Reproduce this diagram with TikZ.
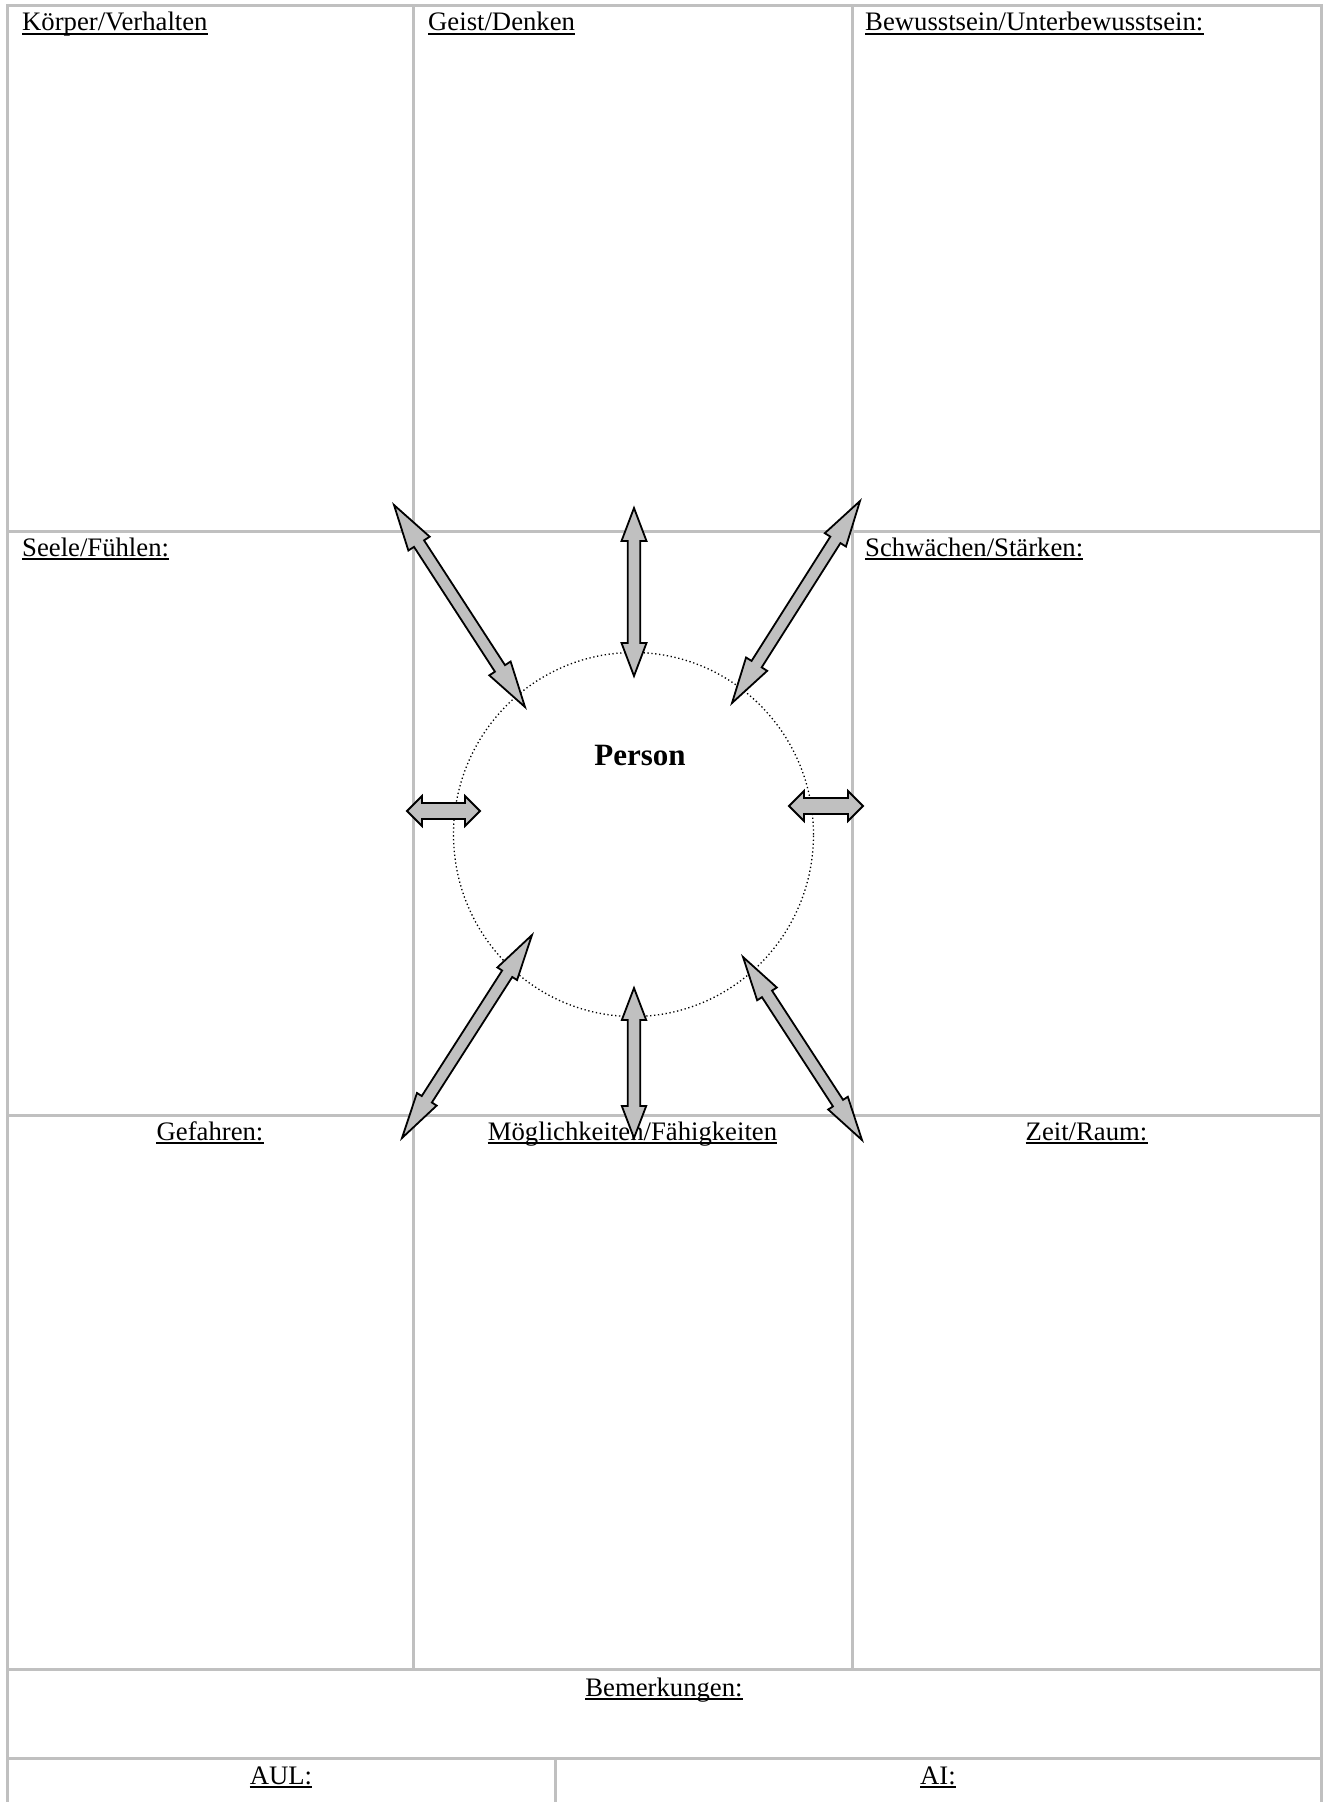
\documentclass[tikz,border=0pt]{standalone}
\usepackage{fontspec}
\setmainfont{Liberation Serif}
\usetikzlibrary{calc,shapes.geometric}
\definecolor{gridgray}{HTML}{C0C0C0}
\definecolor{arrowgray}{HTML}{C0C0C0}
\tikzset{
  tableline/.style={draw=gridgray, line width=3pt},
  lbl/.style={inner sep=0pt, font=\fontsize{26.7}{32}\selectfont},
  uline/.style={draw=black, line width=2pt},
  arrowshape/.style={draw=black, fill=arrowgray, line width=1.8pt, line join=miter},
  circ/.style={ellipse, draw=black, line width=1.3pt, dash pattern=on 1.3pt off 2.6pt, inner sep=0pt, minimum width=360pt, minimum height=364pt}
}
% underlined label: name, position, anchor, text
\newcommand\ulabel[4]{%
  \node[lbl, anchor=#3] (#1) at #2 {#4};
  \draw[uline] ([yshift=-2.8pt]#1.base west) -- ([yshift=-2.8pt]#1.base east);}
% double block arrow: name, tip A, tip B, shaft half width, head half width, head length
\newcommand\dblarr[6]{%
  \coordinate (#1a) at #2; \coordinate (#1b) at #3;
  \coordinate (#1c) at ($(#1a)!#6!(#1b)$);
  \coordinate (#1d) at ($(#1b)!#6!(#1a)$);
  \draw[arrowshape] (#1a) -- ($(#1c)!#5!90:(#1b)$) -- ($(#1c)!#4!90:(#1b)$)
    -- ($(#1d)!#4!-90:(#1a)$) -- ($(#1d)!#5!-90:(#1a)$) -- (#1b)
    -- ($(#1d)!#5!90:(#1a)$) -- ($(#1d)!#4!90:(#1a)$)
    -- ($(#1c)!#4!-90:(#1b)$) -- ($(#1c)!#5!-90:(#1b)$) -- cycle;}
\begin{document}
\begin{tikzpicture}[x=1pt, y=-1pt]
\useasboundingbox (0,0) rectangle (1323,1802);
\fill[white] (0,0) rectangle (1323,1802);
% table
\draw[tableline] (7,1802) -- (7,5) -- (1321,5) -- (1321,1802);
\draw[tableline] (413.5,5) -- (413.5,1669);
\draw[tableline] (852,5) -- (852,1669);
\draw[tableline] (7,531) -- (1321,531);
\draw[tableline] (7,1115) -- (1321,1115);
\draw[tableline] (7,1669) -- (1321,1669);
\draw[tableline] (7,1758) -- (1321,1758);
\draw[tableline] (555,1758) -- (555,1802);
% labels
\ulabel{t1}{(22,30.7)}{base west}{Körper/Verhalten}
\ulabel{t2}{(428,30.7)}{base west}{Geist/Denken}
\ulabel{t3}{(865,30.7)}{base west}{Bewusstsein/Unterbewusstsein:}
\ulabel{t4}{(22,556.3)}{base west}{Seele/Fühlen:}
\ulabel{t6}{(865,556.3)}{base west}{Schwächen/Stärken:}
\ulabel{t7}{(210,1140.5)}{base}{Gefahren:}
\ulabel{t8}{(632.5,1140.5)}{base}{Möglichkeiten/Fähigkeiten}
\ulabel{t9}{(1086.5,1140.5)}{base}{Zeit/Raum:}
\ulabel{t10}{(664,1696.5)}{base}{Bemerkungen:}
\ulabel{t11}{(281,1784.5)}{base}{AUL:}
\ulabel{t12}{(938,1784.5)}{base}{AI:}
% person circle
\node[circ] (person) at (633.5,834.5) {};
\node[inner sep=0pt, anchor=base, font=\fontsize{31}{36}\selectfont\bfseries] (personlbl) at (640,765) {Person};
% arrows
\dblarr{aa}{(394,505)}{(525,707)}{6pt}{12.7pt}{46pt}
\dblarr{ab}{(634,508)}{(634,676)}{6.2pt}{12.5pt}{33pt}
\dblarr{ac}{(860,501)}{(732,703)}{6pt}{12.5pt}{46pt}
\dblarr{ad}{(407,811)}{(480,811)}{8pt}{15pt}{15pt}
\dblarr{ae}{(789,806)}{(863,806)}{8pt}{15pt}{15pt}
\dblarr{af}{(532,935)}{(402,1138)}{6pt}{11.7pt}{46pt}
\dblarr{ag}{(634,988)}{(634,1138)}{6.2pt}{12.2pt}{32pt}
\dblarr{ah}{(743,957)}{(862,1140)}{6pt}{11.7pt}{44pt}
\end{tikzpicture}
\end{document}
